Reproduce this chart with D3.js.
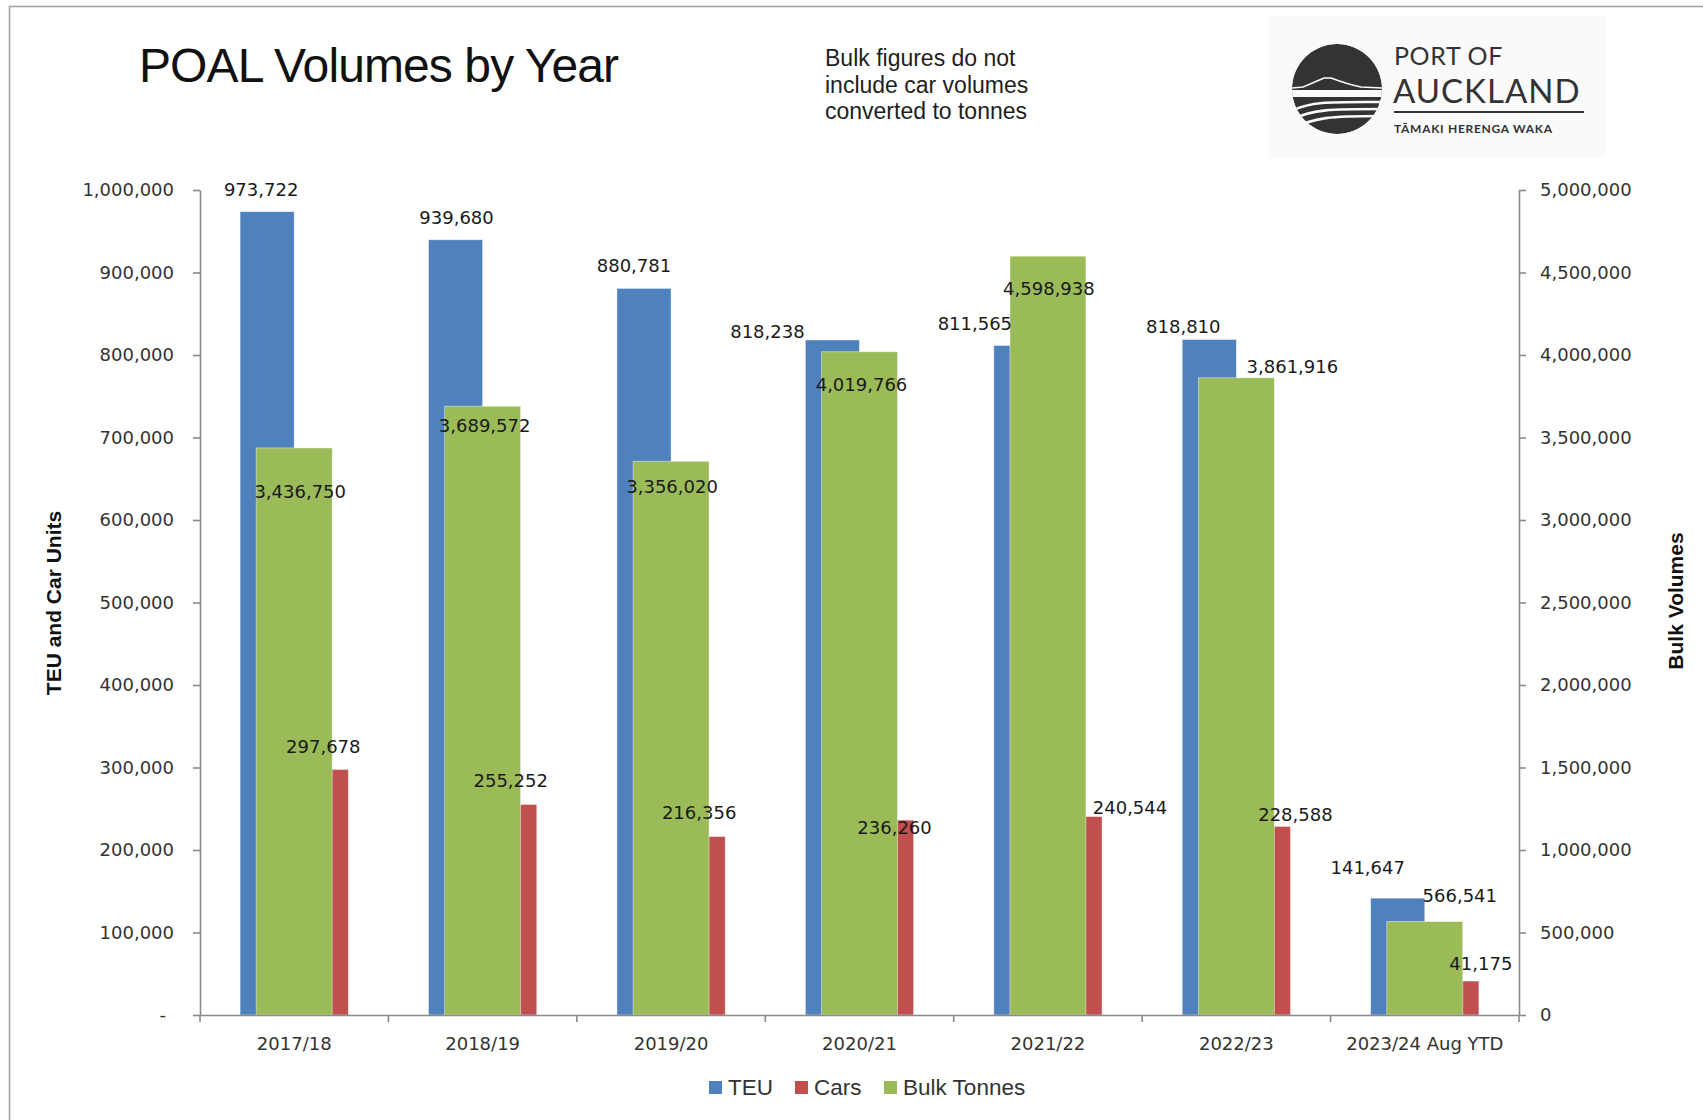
<!DOCTYPE html>
<html><head><meta charset="utf-8">
<script src="https://cdn.jsdelivr.net/npm/d3@7"></script>
<style>body{margin:0;background:#fff} svg{display:block}</style>
</head><body>
<svg id="chart" width="1703" height="1120"></svg>
<script>
// ---------- DATA ----------
const categories = ["2017/18","2018/19","2019/20","2020/21","2021/22","2022/23","2023/24 Aug YTD"];
const teu  = [973722, 939680, 880781, 818238, 811565, 818810, 141647];
const cars = [297678, 255252, 216356, 236260, 240544, 228588, 41175];
const bulk = [3436750, 3689572, 3356020, 4019766, 4598938, 3861916, 566541];
const leftTicks = [0,100000,200000,300000,400000,500000,600000,700000,800000,900000,1000000];
const leftTickLabels = ["-","100,000","200,000","300,000","400,000","500,000","600,000","700,000","800,000","900,000","1,000,000"];
const rightTicks = [0,500000,1000000,1500000,2000000,2500000,3000000,3500000,4000000,4500000,5000000];
const rightTickLabels = ["0","500,000","1,000,000","1,500,000","2,000,000","2,500,000","3,000,000","3,500,000","4,000,000","4,500,000","5,000,000"];
const seriesNames = ["TEU","Cars","Bulk Tonnes"];

// ---------- LAYOUT / STYLE ----------
const colors = {TEU:"#4F81BD", Cars:"#C0504D", "Bulk Tonnes":"#9BBB59"};
const teuLabelShift  = [[-6,-22],[1,-22],[-10,-23],[-65,-8],[-46,-22],[-26,-13],[-30,-30]];
const carsLabelShift = [[2,-23],[1,-24],[1,-24],[8,8],[55,-9],[32,-12],[29,-17]];
const bulkLabelShift = [[6,44],[2,19],[1,25],[2,33],[1,33],[56,-11],[35,-26]];
const plot = {left:200, right:1519, top:190, bottom:1015};
const numFont = "'DejaVu Sans', sans-serif";
const txtFont = "'Liberation Sans', Arial, sans-serif";

const svg = d3.select("#chart");

// frame
svg.append("rect").attr("x",9.5).attr("y",6.5).attr("width",1700).attr("height",1120)
  .attr("fill","#fff").attr("stroke","#a0a0a0").attr("stroke-width",1.5);

// scales
const x = d3.scaleBand().domain(categories).range([plot.left, plot.right]).padding(0);
const xPrim = d3.scaleBand().domain(["TEU","Cars"]).range([0, x.bandwidth()]).paddingInner(0).paddingOuter(0.74);
const xSec = d3.scaleBand().domain(["Bulk Tonnes"]).range([0, x.bandwidth()]).paddingInner(0).paddingOuter(0.74);
const yL = d3.scaleLinear().domain([0,1000000]).range([plot.bottom, plot.top]);
const yR = d3.scaleLinear().domain([0,5000000]).range([plot.bottom, plot.top]);

// ---------- BARS ----------
const gBars = svg.append("g");
function drawBars(vals, key, xs, ys){
  gBars.selectAll(null).data(vals).enter().append("rect")
    .attr("x",(d,i)=>x(categories[i])+xs(key))
    .attr("width",xs.bandwidth())
    .attr("y",d=>ys(d))
    .attr("height",d=>ys(0)-ys(d))
    .attr("fill",colors[key])
    .attr("stroke","rgba(255,255,255,0.55)").attr("stroke-width",0.8);
}
drawBars(teu,"TEU",xPrim,yL);
drawBars(cars,"Cars",xPrim,yL);
drawBars(bulk,"Bulk Tonnes",xSec,yR);

// ---------- AXES ----------
const axisColor = "#8a8a8a";
const gL = svg.append("g").attr("transform",`translate(${plot.left},0)`)
  .call(d3.axisLeft(yL).tickValues(leftTicks).tickFormat((d,i)=>leftTickLabels[i]).tickSize(7).tickSizeOuter(0).tickPadding(19));
gL.selectAll("text").filter(d=>d===0).attr("x",-34);
const gR = svg.append("g").attr("transform",`translate(${plot.right},0)`)
  .call(d3.axisRight(yR).tickValues(rightTicks).tickFormat((d,i)=>rightTickLabels[i]).tickSize(7).tickSizeOuter(0).tickPadding(14));
const gB = svg.append("g").attr("transform",`translate(0,${plot.bottom})`)
  .call(d3.axisBottom(x).tickSize(0).tickPadding(0).tickSizeOuter(0));
gB.selectAll("text").attr("y",29).attr("dy","0.35em");
// category boundary ticks
const bounds = categories.map(c=>x(c)).concat([plot.right]);
gB.selectAll(".btick").data(bounds).enter().append("line").attr("class","btick")
  .attr("x1",d=>d).attr("x2",d=>d).attr("y1",0).attr("y2",7);
[gL,gR,gB].forEach(g=>{
  g.selectAll("path.domain").attr("stroke",axisColor).attr("stroke-width",1.6);
  g.selectAll("line").attr("stroke",axisColor).attr("stroke-width",1.6);
  g.selectAll("text").attr("font-family",numFont).attr("font-size",18).attr("fill","#333");
});

// ---------- DATA LABELS ----------
const gLab = svg.append("g").attr("font-family",numFont).attr("font-size",18).attr("fill","#1a1a1a").attr("text-anchor","middle");
const fmt = d3.format(",");
function drawLabels(vals, key, xs, ys, shift){
  gLab.selectAll(null).data(vals).enter().append("text")
    .attr("x",(d,i)=>x(categories[i])+xs(key)+xs.bandwidth()/2+shift[i][0])
    .attr("y",(d,i)=>ys(d)+shift[i][1])
    .attr("dy","0.35em")
    .text(d=>fmt(d));
}
drawLabels(teu,"TEU",xPrim,yL,teuLabelShift);
drawLabels(cars,"Cars",xPrim,yL,carsLabelShift);
drawLabels(bulk,"Bulk Tonnes",xSec,yR,bulkLabelShift);

// ---------- AXIS TITLES ----------
svg.append("text").attr("transform","translate(54,603) rotate(-90)")
  .attr("text-anchor","middle").attr("dy","0.35em")
  .attr("font-family",txtFont).attr("font-weight","bold").attr("font-size",21).attr("fill","#111")
  .text("TEU and Car Units");
svg.append("text").attr("transform","translate(1676,601) rotate(-90)")
  .attr("text-anchor","middle").attr("dy","0.35em")
  .attr("font-family",txtFont).attr("font-weight","bold").attr("font-size",21).attr("fill","#111")
  .text("Bulk Volumes");

// ---------- TITLE & NOTE ----------
svg.append("text").attr("x",139).attr("y",82).attr("font-family",txtFont).attr("font-size",48)
  .attr("letter-spacing",-0.9).attr("fill","#111").text("POAL Volumes by Year");
const noteLines = ["Bulk figures do not","include car volumes","converted to tonnes"];
svg.append("g").selectAll("text").data(noteLines).enter().append("text")
  .attr("x",825).attr("y",(d,i)=>66+i*26.5)
  .attr("font-family",txtFont).attr("font-size",23).attr("fill","#1e1e1e").text(d=>d);

// ---------- LEGEND ----------
const legendX = [709, 795, 884];
const gLeg = svg.append("g");
seriesNames.forEach((s,i)=>{
  gLeg.append("rect").attr("x",legendX[i]).attr("y",1081).attr("width",13).attr("height",13).attr("fill",colors[s]);
  gLeg.append("text").attr("x",legendX[i]+19).attr("y",1087.5).attr("dy","0.35em")
    .attr("font-family",txtFont).attr("font-size",22.5).attr("fill","#333").text(s);
});

// ---------- LOGO ----------
const logo = svg.append("g");
logo.append("rect").attr("x",1268).attr("y",16).attr("width",337).attr("height",142).attr("fill","#fafafa");
const cx=1337, cy=89, r=45;
svg.append("defs").append("clipPath").attr("id","lc").append("circle").attr("cx",cx).attr("cy",cy).attr("r",r);
const lg = logo.append("g").attr("clip-path","url(#lc)");
lg.append("circle").attr("cx",cx).attr("cy",cy).attr("r",r).attr("fill","#333");
lg.append("rect").attr("x",cx-r).attr("y",cy+1).attr("width",2*r).attr("height",7).attr("fill","#fafafa");
lg.append("path").attr("d",`M${cx-45},${cy-1} L${cx-34},${cy-2} C${cx-24},${cy-6} ${cx-18},${cy-9} ${cx-13},${cy-11} L${cx-6},${cy-11} C${cx+2},${cy-8} ${cx+14},${cy-4} ${cx+24},${cy-2} L${cx+45},${cy-1}`)
  .attr("fill","none").attr("stroke","#fafafa").attr("stroke-width",1.4);
[[22,12,13],[31,20,20],[41,28,27]].forEach(w=>{
  lg.append("path").attr("d",`M${cx-46},${cy+w[0]} C${cx-25},${cy+w[1]} ${cx-5},${cy+w[2]} ${cx+46},${cy+w[2]}`)
    .attr("fill","none").attr("stroke","#fafafa").attr("stroke-width",2.6);
});
const logoFont = "Lato, 'Open Sans', sans-serif";
logo.append("text").attr("x",1394).attr("y",65).attr("font-family",logoFont)
  .attr("font-size",25).attr("letter-spacing",0.6).attr("fill","#333").text("PORT OF");
logo.append("text").attr("x",1393).attr("y",103).attr("font-family",logoFont)
  .attr("font-size",33).attr("letter-spacing",1).attr("fill","#333").text("AUCKLAND");
logo.append("line").attr("x1",1394).attr("x2",1584).attr("y1",112).attr("y2",112).attr("stroke","#333").attr("stroke-width",2);
logo.append("text").attr("x",1394).attr("y",133).attr("font-family",logoFont)
  .attr("font-weight","bold").attr("font-size",12).attr("letter-spacing",0.7).attr("fill","#333").text("TĀMAKI HERENGA WAKA");
</script>
</body></html>
